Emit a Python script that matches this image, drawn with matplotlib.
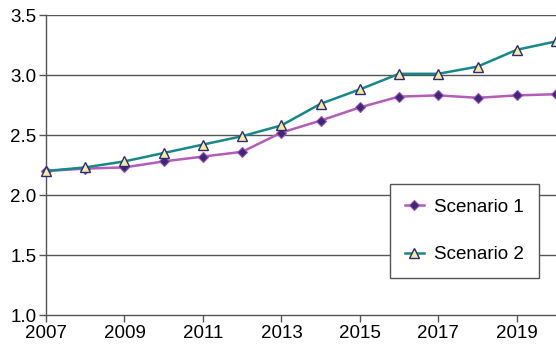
import matplotlib.pyplot as plt

# DATA -----------------------------------------------------------------------------------------------------------------
years = [2007, 2008, 2009, 2010, 2011, 2012, 2013, 2014, 2015, 2016, 2017, 2018, 2019, 2020]
scenario_1 = [2.20, 2.22, 2.23, 2.28, 2.32, 2.36, 2.52, 2.62, 2.73, 2.82, 2.83, 2.81, 2.83, 2.84]
scenario_2 = [2.20, 2.23, 2.28, 2.35, 2.42, 2.49, 2.58, 2.76, 2.88, 3.01, 3.01, 3.07, 3.21, 3.28]
xticks = [2007, 2009, 2011, 2013, 2015, 2017, 2019]
yticks = [1.0, 1.5, 2.0, 2.5, 3.0, 3.5]

plt.rcParams['font.family'] = ['Liberation Sans', 'DejaVu Sans']

# PLOT -----------------------------------------------------------------------------------------------------------------
fig = plt.figure(figsize=(5.56, 3.46), dpi=100)
ax = fig.add_axes([46 / 556, 1 - 315 / 346, 510 / 556, 300 / 346])

# horizontal gridlines
for y in yticks[1:]:
    ax.axhline(y, color='#555555', linewidth=1, zorder=1)

ax.plot(years, scenario_1, color='#b35cb8', linewidth=1.8, marker='D', markersize=5,
        markerfacecolor='#3b2878', markeredgecolor='#a050b0', markeredgewidth=0.8,
        label='Scenario 1', zorder=3, clip_on=False)
ax.plot(years, scenario_2, color='#16888a', linewidth=1.8, marker='^', markersize=7,
        markerfacecolor='#f4ec9a', markeredgecolor='#2e2a7a', markeredgewidth=1,
        label='Scenario 2', zorder=3, clip_on=False)

ax.set_xlim(2007, 2020)
ax.set_ylim(1.0, 3.5)
ax.set_xticks(xticks)
ax.set_yticks(yticks)
ax.set_yticklabels([f'{v:.1f}' for v in yticks])
ax.tick_params(axis='both', labelsize=13.5, color='#555555', length=5, width=1, pad=2)

for side in ['top', 'right']:
    ax.spines[side].set_visible(False)
for side in ['left', 'bottom']:
    ax.spines[side].set_color('#555555')
    ax.spines[side].set_linewidth(1)

leg = ax.legend(loc='upper left', bbox_to_anchor=(0.6745, 0.437), borderaxespad=0,
                fontsize=13.5, fancybox=False, framealpha=1, edgecolor='#555555',
                handlelength=1.0, handletextpad=0.55, borderpad=0.8, labelspacing=1.6)
leg.get_frame().set_linewidth(1)

plt.savefig('out.png', dpi=100)
